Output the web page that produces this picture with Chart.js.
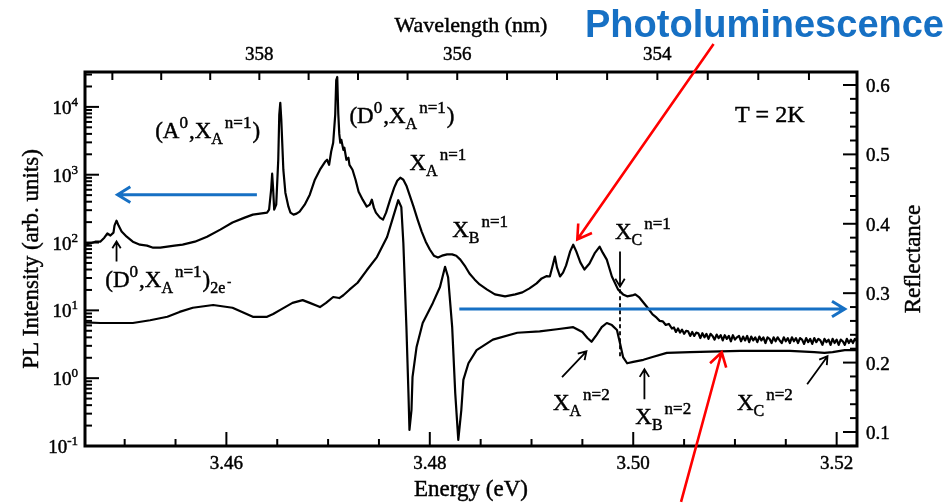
<!DOCTYPE html>
<html>
<head>
<meta charset="utf-8">
<script src="https://cdn.jsdelivr.net/npm/chart.js@4.4.0/dist/chart.umd.min.js"></script>
<style>
  body { margin: 0; background: #fff; }
  canvas { display: block; }
</style>
</head>
<body>
<canvas id="spectra" width="952" height="503"></canvas>
<script>
// photoluminescence: [photon energy (eV), intensity (arb. units)]
const plSpectrum = [
  [3.4461, 93], [3.4466, 97], [3.4471, 103], [3.4476, 103], [3.4480, 118], [3.4483, 136], [3.4486, 127],
  [3.4489, 140], [3.4490, 178], [3.4492, 210], [3.4494, 178], [3.4497, 145], [3.4502, 122], [3.4508, 103],
  [3.4515, 93], [3.4522, 90], [3.4528, 84], [3.4535, 84], [3.4542, 87], [3.4549, 90], [3.4557, 93],
  [3.4569, 103], [3.4581, 122], [3.4594, 155], [3.4606, 197], [3.4618, 233], [3.4626, 258], [3.4633, 267],
  [3.4640, 276], [3.4642, 306], [3.4644, 601], [3.4645, 1035], [3.4646, 601], [3.4647, 306], [3.4649, 362],
  [3.4651, 1660], [3.4652, 7630], [3.4653, 11450], [3.4654, 6440], [3.4656, 1185], [3.4658, 543],
  [3.4661, 338], [3.4663, 276], [3.4666, 258], [3.4669, 267], [3.4672, 286], [3.4677, 362], [3.4682, 508],
  [3.4687, 844], [3.4692, 1185], [3.4697, 1550], [3.4699, 1660], [3.4701, 1400], [3.4703, 2180],
  [3.4705, 2960], [3.4707, 7630], [3.4708, 24900], [3.4709, 27600], [3.4710, 8000], [3.4711, 4000],
  [3.4712, 2960], [3.4713, 3270], [3.4715, 2330], [3.4716, 2500], [3.4718, 1660], [3.4720, 1780],
  [3.4721, 1400], [3.4724, 1185], [3.4727, 844], [3.4730, 562], [3.4734, 429], [3.4738, 338], [3.4741, 362],
  [3.4743, 429], [3.4745, 327], [3.4747, 276], [3.4751, 233], [3.4754, 218], [3.4757, 276], [3.4761, 429],
  [3.4765, 644], [3.4768, 816], [3.4771, 904], [3.4774, 844], [3.4777, 689], [3.4780, 508], [3.4784, 338],
  [3.4788, 218], [3.4792, 145], [3.4796, 103], [3.4800, 79], [3.4804, 64], [3.4808, 60], [3.4812, 64],
  [3.4817, 67], [3.4822, 67], [3.4826, 64], [3.4830, 56], [3.4835, 44], [3.4839, 35], [3.4844, 28.6],
  [3.4849, 24.1], [3.4856, 20.4], [3.4864, 17.2], [3.4874, 16.1], [3.4884, 17.2], [3.4891, 18.4],
  [3.4898, 21.1], [3.4905, 25], [3.4910, 29.6], [3.4915, 32], [3.4918, 31.6], [3.4921, 47], [3.4923, 62],
  [3.4925, 43], [3.4928, 31.6], [3.4931, 36], [3.4934, 46], [3.4938, 74], [3.4941, 93], [3.4944, 74],
  [3.4948, 51], [3.4952, 40], [3.4957, 49], [3.4962, 69], [3.4967, 87], [3.4970, 71], [3.4974, 56],
  [3.4979, 31.6], [3.4985, 20.4], [3.4990, 17.2], [3.4994, 16.1], [3.4999, 16.6], [3.5002, 17.2],
  [3.5006, 15.5], [3.5013, 11.5], [3.5019, 8.7], [3.5023, 7.8], [3.5026, 7.0], [3.5029, 6.9], [3.5032, 6.1],
  [3.5035, 6.3], [3.5038, 5.4],
  [3.5040, 5.6], [3.5042, 4.8], [3.5044, 5.4], [3.5046, 4.7], [3.5048, 5.2], [3.5050, 4.5], [3.5052, 5.0],
  [3.5054, 4.9], [3.5056, 4.2], [3.5058, 4.8], [3.5060, 4.2], [3.5062, 4.7], [3.5064, 4.6], [3.5066, 3.9],
  [3.5068, 4.6], [3.5070, 4.0], [3.5072, 4.5], [3.5074, 3.8], [3.5076, 4.5], [3.5078, 4.2], [3.5080, 3.7],
  [3.5082, 4.4], [3.5084, 3.9], [3.5086, 4.3], [3.5088, 3.6], [3.5090, 4.3], [3.5092, 3.8], [3.5094, 4.2],
  [3.5096, 3.5], [3.5098, 4.3], [3.5100, 3.7], [3.5102, 4.0], [3.5104, 4.2], [3.5106, 3.5], [3.5108, 4.1],
  [3.5110, 3.6], [3.5112, 4.2], [3.5114, 3.4], [3.5116, 4.1], [3.5118, 3.6], [3.5120, 4.0], [3.5122, 3.4],
  [3.5124, 4.1], [3.5126, 3.6], [3.5128, 4.0], [3.5130, 3.3], [3.5132, 4.0], [3.5134, 3.8], [3.5136, 3.3],
  [3.5138, 4.0], [3.5140, 3.5], [3.5142, 4.0], [3.5144, 3.6], [3.5146, 3.3], [3.5148, 4.0], [3.5150, 3.5],
  [3.5152, 3.9], [3.5154, 3.3], [3.5156, 4.0], [3.5158, 3.5], [3.5160, 3.9], [3.5162, 3.3], [3.5164, 3.9],
  [3.5166, 3.7], [3.5168, 3.2], [3.5170, 3.9], [3.5172, 3.4], [3.5174, 3.8], [3.5176, 3.2], [3.5178, 3.9],
  [3.5180, 3.4], [3.5182, 3.8], [3.5184, 3.6], [3.5186, 3.1], [3.5188, 3.8], [3.5190, 3.4], [3.5192, 3.7],
  [3.5194, 3.1], [3.5196, 3.8], [3.5198, 3.3], [3.5200, 3.7], [3.5202, 3.1], [3.5204, 3.7], [3.5206, 3.5],
  [3.5208, 3.1], [3.5210, 3.8], [3.5212, 3.3], [3.5214, 3.7], [3.5216, 3.3], [3.5218, 3.8], [3.5220, 3.5]
];

// reflectance: [photon energy (eV), reflectance]
const reflSpectrum = [
  [3.4461, 0.258], [3.4476, 0.257], [3.4492, 0.257], [3.4508, 0.257], [3.4525, 0.261], [3.4542, 0.266],
  [3.4554, 0.273], [3.4567, 0.279], [3.4587, 0.283], [3.4606, 0.279], [3.4626, 0.266], [3.4640, 0.266],
  [3.4646, 0.270], [3.4653, 0.276], [3.4665, 0.286], [3.4675, 0.290], [3.4682, 0.286], [3.4689, 0.282],
  [3.4692, 0.280], [3.4698, 0.286], [3.4705, 0.2945], [3.4711, 0.293], [3.4715, 0.297], [3.4721, 0.305],
  [3.4729, 0.315], [3.4738, 0.333], [3.4748, 0.352], [3.4758, 0.381], [3.4764, 0.410], [3.4769, 0.434],
  [3.4772, 0.424], [3.4774, 0.372], [3.4777, 0.251], [3.4779, 0.156], [3.4780, 0.103], [3.4782, 0.132],
  [3.4783, 0.179], [3.4787, 0.2225], [3.4793, 0.257], [3.4803, 0.286], [3.4810, 0.309], [3.4815, 0.338],
  [3.4818, 0.323], [3.4822, 0.251], [3.4825, 0.156], [3.4828, 0.0885], [3.4831, 0.132], [3.4833, 0.175],
  [3.4838, 0.199], [3.4846, 0.218], [3.4862, 0.233], [3.4886, 0.243], [3.4908, 0.245], [3.4925, 0.248],
  [3.4941, 0.251], [3.4950, 0.244], [3.4955, 0.2355], [3.4959, 0.230], [3.4964, 0.240], [3.4969, 0.251],
  [3.4974, 0.257], [3.4979, 0.254], [3.4984, 0.247], [3.4987, 0.228], [3.4990, 0.208], [3.4994, 0.199],
  [3.5000, 0.201], [3.5010, 0.204], [3.5019, 0.208], [3.5033, 0.214], [3.5056, 0.215], [3.5105, 0.217],
  [3.5154, 0.217], [3.5178, 0.215], [3.5188, 0.214], [3.5196, 0.215], [3.5208, 0.218], [3.5220, 0.218]
];

const energyLabels = [3.46, 3.48, 3.50, 3.52];
const wavelengthLabels = [358, 356, 354];
const reflLabels = [0.1, 0.2, 0.3, 0.4, 0.5, 0.6];
const plDecades = [-1, 0, 1, 2, 3, 4];

const HC = 1239.84; // eV * nm
const serif = '"Liberation Serif", "Times New Roman", serif';
const blue = '#1670c4';
const red = '#ff0000';

// peak assignments, anchored at (energy, PL intensity); level 1 = superscript, -1 = subscript
const peakLabels = [
  { e: 3.4530, v: 3500, parts: [['(A', 0], ['0', 1], [',X', 0], ['A', -1], ['n=1', 1], [')', 0]] },
  { e: 3.4721, v: 5820, parts: [['(D', 0], ['0', 1], [',X', 0], ['A', -1], ['n=1', 1], [')', 0]] },
  { e: 3.4780, v: 1185, parts: [['X', 0], ['A', -1], ['n=1', 1]] },
  { e: 3.4822, v: 122, parts: [['X', 0], ['B', -1], ['n=1', 1]] },
  { e: 3.4982, v: 111, parts: [['X', 0], ['C', -1], ['n=1', 1]] },
  { e: 3.4481, v: 21.8, parts: [['(D', 0], ['0', 1], [',X', 0], ['A', -1], ['n=1', 1], [')', 0], ['2e', -1], ['-', 2]] },
  { e: 3.4921, v: 0.338, parts: [['X', 0], ['A', -1], ['n=2', 1]] },
  { e: 3.5002, v: 0.211, parts: [['X', 0], ['B', -1], ['n=2', 1]] },
  { e: 3.5102, v: 0.338, parts: [['X', 0], ['C', -1], ['n=2', 1]] },
  { e: 3.5100, v: 6010, parts: [['T = 2K', 3]] }
];

const arrows = [
  { from: [3.4492, 52.6], to: [3.4492, 103.5], axis: 'yPL', color: '#000', width: 1.8, head: 8 },
  { from: [3.4987, 73.8], to: [3.4987, 22.5], axis: 'yPL', color: '#000', width: 1.8, head: 9 },
  { from: [3.4930, 1.035], to: [3.4954, 2.49], axis: 'yPL', color: '#000', width: 1.8, head: 9 },
  { from: [3.5011, 0.491], to: [3.5011, 1.355], axis: 'yPL', color: '#000', width: 1.8, head: 9 },
  { from: [3.5171, 0.816], to: [3.5191, 2.11], axis: 'yPL', color: '#000', width: 1.8, head: 9 },
  { from: [3.4630, 508], to: [3.4493, 508], axis: 'yPL', color: blue, width: 3, head: 15 },
  { from: [3.4829, 0.2772], to: [3.5208, 0.2772], axis: 'yR', color: blue, width: 3, head: 15 },
  { from: [3.5079, 84400], to: [3.4945, 111], axis: 'yPL', color: red, width: 2.6, head: 16 },
  { from: [3.5047, 0.015], to: [3.5087, 2.41], axis: 'yPL', color: red, width: 2.6, head: 16 }
];

// filled text with a hairline stroke, so the serif glyphs print as dark as the curves
function ink(ctx, s, x, y) {
  ctx.fillText(s, x, y);
  ctx.lineWidth = 0.45;
  ctx.strokeText(s, x, y);
}

function richText(ctx, x, y, parts) {
  let cx = x;
  parts.forEach(([txt, lvl]) => {
    let size = 23, dy = 0, gap = 0;
    if (lvl === 1) { size = 17; dy = -10; gap = 1; }
    if (lvl === -1) { size = 16; dy = 6; gap = 2; }
    if (lvl === 2) { size = 12; dy = -1; }
    if (lvl === 3) { size = 24; }
    ctx.font = size + 'px ' + serif;
    ink(ctx, txt, cx, y + dy);
    cx += ctx.measureText(txt).width + gap;
  });
}

function drawArrow(ctx, x0, y0, x1, y1, head) {
  const ang = Math.atan2(y1 - y0, x1 - x0);
  ctx.beginPath();
  ctx.moveTo(x0, y0);
  ctx.lineTo(x1, y1);
  ctx.moveTo(x1 - head * Math.cos(ang - 0.55), y1 - head * Math.sin(ang - 0.55));
  ctx.lineTo(x1, y1);
  ctx.lineTo(x1 - head * Math.cos(ang + 0.55), y1 - head * Math.sin(ang + 0.55));
  ctx.stroke();
}

function line(ctx, x0, y0, x1, y1) {
  ctx.beginPath();
  ctx.moveTo(x0, y0);
  ctx.lineTo(x1, y1);
  ctx.stroke();
}

// frame, inward ticks, both energy/wavelength axes and both y axes
const axesFrame = {
  id: 'axesFrame',
  afterDatasetsDraw(chart) {
    const ctx = chart.ctx;
    const a = chart.chartArea;
    const xs = chart.scales.x, yl = chart.scales.yPL, yr = chart.scales.yR;
    ctx.save();
    ctx.strokeStyle = '#000';
    ctx.fillStyle = '#000';
    ctx.lineCap = 'butt';

    // dashed marker under X_C(n=1)
    ctx.lineWidth = 1.8;
    ctx.setLineDash([4, 3]);
    line(ctx, xs.getPixelForValue(3.4987), yl.getPixelForValue(20.4),
      xs.getPixelForValue(3.4987), yl.getPixelForValue(2.04));
    ctx.setLineDash([]);

    ctx.lineWidth = 2;
    // bottom: energy, minor every 5 meV
    for (let i = 689; i <= 705; i++) {
      const e = i / 200;
      if (e < xs.min || e > xs.max) continue;
      const x = xs.getPixelForValue(e);
      const major = energyLabels.some(l => Math.abs(l - e) < 1e-6);
      line(ctx, x, a.bottom, x, a.bottom - (major ? 14 : 7));
    }
    // top: wavelength every 0.5 nm
    for (let i = 700; i <= 722; i++) {
      const e = HC / (i / 2);
      if (e < xs.min || e > xs.max) continue;
      const x = xs.getPixelForValue(e);
      line(ctx, x, a.top, x, a.top + 8);
    }
    // left: log decades and minors
    for (let d = -1; d <= 4; d++) {
      for (let m = 1; m <= 9; m++) {
        const v = m * Math.pow(10, d);
        if (v < yl.min || v > yl.max) continue;
        const y = yl.getPixelForValue(v);
        line(ctx, a.left, y, a.left + (m === 1 ? 14 : 7), y);
      }
    }
    // right: reflectance every 0.02
    for (let i = 4; i <= 31; i++) {
      const v = i / 50;
      if (v < yr.min || v > yr.max) continue;
      const y = yr.getPixelForValue(v);
      line(ctx, a.right, y, a.right - (i % 5 === 0 ? 14 : 7), y);
    }

    ctx.lineWidth = 3;
    ctx.strokeRect(a.left, a.top, a.right - a.left, a.bottom - a.top);

    // tick labels
    ctx.font = '19px ' + serif;
    ctx.textAlign = 'center';
    ctx.textBaseline = 'alphabetic';
    energyLabels.forEach(e => ink(ctx, e.toFixed(2), xs.getPixelForValue(e), a.bottom + 23));
    wavelengthLabels.forEach(l => ink(ctx, String(l), xs.getPixelForValue(HC / l), a.top - 12));

    ctx.textAlign = 'left';
    reflLabels.forEach(r => ink(ctx, r.toFixed(1), a.right + 9, yr.getPixelForValue(r) + 7));

    plDecades.forEach(d => {
      const y = yl.getPixelForValue(Math.pow(10, d));
      const exp = String(d);
      ctx.font = '13px ' + serif;
      const we = ctx.measureText(exp).width;
      ctx.font = '19px ' + serif;
      const wb = ctx.measureText('10').width;
      const x0 = a.left - 7 - we - wb;
      ink(ctx, '10', x0, y + 7);
      ctx.font = '13px ' + serif;
      ink(ctx, exp, x0 + wb, y - 1);
    });

    // axis titles
    ctx.textAlign = 'center';
    const midX = (a.left + a.right) / 2;
    const midY = (a.top + a.bottom) / 2;
    ctx.font = '23px ' + serif;
    ink(ctx, 'Energy (eV)', midX, a.bottom + 50);
    ctx.font = '22px ' + serif;
    ink(ctx, 'Wavelength (nm)', midX, a.top - 40);
    ctx.font = '23px ' + serif;
    ctx.save();
    ctx.translate(38, midY);
    ctx.rotate(-Math.PI / 2);
    ink(ctx, 'PL Intensity (arb. units)', 0, 0);
    ctx.restore();
    ctx.save();
    ctx.translate(920, midY);
    ctx.rotate(-Math.PI / 2);
    ink(ctx, 'Reflectance', 0, 0);
    ctx.restore();

    // peak labels
    ctx.textAlign = 'left';
    peakLabels.forEach(p => richText(ctx, xs.getPixelForValue(p.e), yl.getPixelForValue(p.v), p.parts));

    // arrows
    ctx.lineJoin = 'miter';
    arrows.forEach(ar => {
      const ys = chart.scales[ar.axis];
      ctx.strokeStyle = ar.color;
      ctx.lineWidth = ar.width;
      drawArrow(ctx, xs.getPixelForValue(ar.from[0]), ys.getPixelForValue(ar.from[1]),
        xs.getPixelForValue(ar.to[0]), ys.getPixelForValue(ar.to[1]), ar.head);
    });

    ctx.fillStyle = blue;
    ctx.font = 'bold 38px "Liberation Sans", Arial, sans-serif';
    ctx.textAlign = 'right';
    ctx.fillText('Photoluminescence', 944, 37);
    ctx.restore();
  }
};

new Chart(document.getElementById('spectra'), {
  type: 'line',
  data: {
    datasets: [
      {
        label: 'Photoluminescence',
        data: plSpectrum.map(([e, v]) => ({ x: e, y: v })),
        yAxisID: 'yPL',
        borderColor: '#000',
        borderWidth: 2.2,
        borderJoinStyle: 'round',
        pointRadius: 0,
        tension: 0,
        fill: false
      },
      {
        label: 'Reflectance',
        data: reflSpectrum.map(([e, r]) => ({ x: e, y: r })),
        yAxisID: 'yR',
        borderColor: '#000',
        borderWidth: 2.2,
        borderJoinStyle: 'round',
        pointRadius: 0,
        tension: 0,
        fill: false
      }
    ]
  },
  options: {
    responsive: false,
    animation: false,
    devicePixelRatio: 1,
    layout: { padding: { left: 85, top: 72, right: 95, bottom: 57 } },
    plugins: { legend: { display: false }, tooltip: { enabled: false } },
    scales: {
      x: { type: 'linear', min: 3.4461, max: 3.5220, display: false },
      yPL: { type: 'logarithmic', position: 'left', min: 0.1, max: 32700, display: false },
      yR: { type: 'linear', position: 'right', min: 0.0798, max: 0.6187, display: false }
    }
  },
  plugins: [axesFrame]
});
</script>
</body>
</html>
